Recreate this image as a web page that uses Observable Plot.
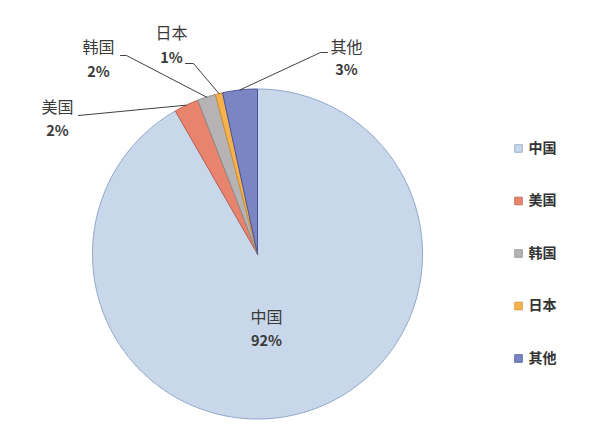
<!DOCTYPE html>
<html><head><meta charset="utf-8">
<script src="https://cdn.jsdelivr.net/npm/d3@7"></script>
<script src="https://cdn.jsdelivr.net/npm/@observablehq/plot@0.6"></script>
<style>body{margin:0;background:#fff}</style>
</head><body><div id="chart"></div>
<script>
// ---- data ----
const categories = ["中国", "美国", "韩国", "日本", "其他"];
const shares = [91.7, 2.4, 1.8, 0.7, 3.4];
const percentLabels = ["92%", "2%", "2%", "1%", "3%"];
const fillColors = ["#c8d7ea", "#e8836d", "#b5b3b3", "#f7b24f", "#7b85c3"];
const strokeColors = ["#8ba3c8", "#b9644f", "#8e8c8c", "#d2902f", "#4a5497"];

// ---- layout ----
const W = 600, H = 428, CX = 257, CY = 253.5, R = 165;
const u = px => (px - CX) / R;
const v = py => (CY - py) / R;

// label anchors (pixels): [x, name y, percent y]
const labelPos = [[266, 317, 341], [57, 107, 131], [98, 47, 72], [171, 33, 58], [346, 47, 70]];
// leader line label-side points (pixels)
const leaderStart = [null, [[78, 115]], [[120, 55], [126, 55]], [[185, 63], [193, 63]], [[327, 52], [320, 52]]];

const arcs = d3.pie().sort(null).value(d => d)(shares);
const slices = arcs.map(a => {
  const pts = [{x: 0, y: 0}];
  const n = Math.max(4, Math.ceil((a.endAngle - a.startAngle) / (Math.PI / 360)));
  for (let k = 0; k <= n; k++) {
    const t = a.startAngle + (a.endAngle - a.startAngle) * k / n;
    pts.push({x: Math.sin(t), y: Math.cos(t)});
  }
  pts.push({x: 0, y: 0});
  return pts;
});

const sliceMarks = slices.map((pts, i) =>
  Plot.line(pts, {x: "x", y: "y", fill: fillColors[i], stroke: strokeColors[i], strokeWidth: 1, curve: "linear"}));

const leaderMarks = [];
arcs.forEach((a, i) => {
  if (!leaderStart[i]) return;
  const m = (a.startAngle + a.endAngle) / 2;
  const pts = leaderStart[i].map(([px, py]) => ({x: u(px), y: v(py)}));
  pts.push({x: Math.sin(m) * 1.0, y: Math.cos(m) * 1.0});
  leaderMarks.push(Plot.line(pts, {x: "x", y: "y", stroke: "#404040", strokeWidth: 1}));
});

const labelData = categories.map((c, i) => ({name: c, pct: percentLabels[i], x: u(labelPos[i][0]), yn: v(labelPos[i][1]), yp: v(labelPos[i][2])}));

const legendData = categories.map((c, i) => ({name: c, i, x: u(518), tx: u(528), y: v(148 + i * 52.5)}));

const chart = Plot.plot({
  width: W, height: H,
  margin: 0,
  x: {domain: [u(0), u(W)], range: [0, W], axis: null},
  y: {domain: [v(H), v(0)], range: [H, 0], axis: null},
  style: {fontFamily: "'Noto Sans CJK SC', 'Noto Sans', sans-serif", background: "#fff"},
  marks: [
    ...sliceMarks,
    ...leaderMarks,
    Plot.text(labelData, {x: "x", y: "yn", text: "name", fontSize: 16, fill: "#3a3a3a"}),
    Plot.text(labelData, {x: "x", y: "yp", text: "pct", fontSize: 14.5, fontWeight: "bold", fill: "#3a3a3a"}),
    Plot.dot(legendData, {x: "x", y: "y", symbol: "square", r: 4.3, fill: (d) => fillColors[d.i], stroke: (d) => strokeColors[d.i], strokeWidth: 0.8}),
    Plot.text(legendData, {x: "tx", y: "y", text: "name", textAnchor: "start", fontSize: 14, fontWeight: "bold", fill: "#333"})
  ]
});
document.getElementById("chart").append(chart);
</script>
</body></html>
